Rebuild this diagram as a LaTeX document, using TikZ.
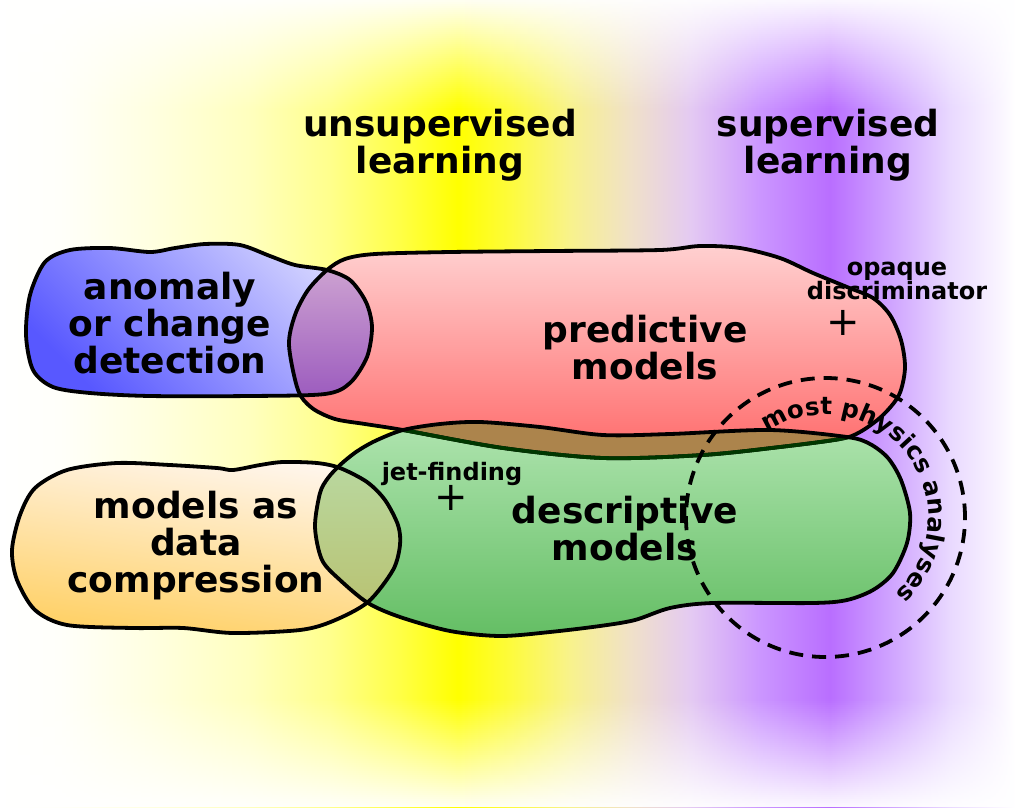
\documentclass[tikz,border=0pt]{standalone}
\usepackage{fontspec}
\setmainfont{DejaVu Sans}
\usetikzlibrary{decorations.text}
\definecolor{bgA}{RGB}{255,255,250}
\definecolor{bgB}{RGB}{255,255,225}
\definecolor{bgC}{RGB}{255,255,190}
\definecolor{bgD}{RGB}{255,255,140}
\definecolor{bgE}{RGB}{255,255,70}
\definecolor{bgF}{RGB}{255,255,0}
\definecolor{bgG}{RGB}{253,251,60}
\definecolor{bgH}{RGB}{248,242,140}
\definecolor{bgI}{RGB}{240,225,200}
\definecolor{bgJ}{RGB}{228,202,242}
\definecolor{bgK}{RGB}{203,150,255}
\definecolor{bgL}{RGB}{185,110,255}
\definecolor{bgM}{RGB}{207,163,255}
\definecolor{bgN}{RGB}{233,217,255}
\definecolor{bgO}{RGB}{250,245,255}
\definecolor{blueT}{RGB}{212,212,255}
\definecolor{blueB}{RGB}{88,88,255}
\definecolor{redT}{RGB}{255,208,208}
\definecolor{redB}{RGB}{255,105,105}
\definecolor{greenT}{RGB}{175,228,175}
\definecolor{greenB}{RGB}{100,190,100}
\definecolor{orangeT}{RGB}{255,246,238}
\definecolor{orangeB}{RGB}{255,208,100}
\definecolor{purpT}{RGB}{207,165,210}
\definecolor{purpB}{RGB}{155,90,190}
\definecolor{brownC}{RGB}{172,132,76}
\definecolor{oliveT}{RGB}{185,216,160}
\definecolor{oliveB}{RGB}{185,195,115}
\definecolor{darkgreenline}{RGB}{0,55,0}
\pgfdeclarehorizontalshading{bgshade}{100bp}{color(0bp)=(white); color(25bp)=(white); color(27.96bp)=(bgA); color(32.39bp)=(bgB); color(37.32bp)=(bgC); color(41.26bp)=(bgD); color(44.70bp)=(bgE); color(47.56bp)=(bgF); color(50.12bp)=(bgG); color(53.08bp)=(bgH); color(56.03bp)=(bgI); color(59.00bp)=(bgJ); color(62.44bp)=(bgK); color(65.89bp)=(bgL); color(68.84bp)=(bgM); color(71.80bp)=(bgN); color(74.26bp)=(bgO); color(75bp)=(white); color(100bp)=(white)}
\tikzset{
  blobline/.style={draw=black, line width=3.8pt, line join=round},
  bigtext/.style={font=\bfseries\fontsize{36}{37}\selectfont, align=center, inner sep=0pt},
  smalltext/.style={font=\bfseries\fontsize{24}{24}\selectfont, align=center, inner sep=0pt},
  plussign/.style={font=\fontsize{40}{40}\selectfont, inner sep=0pt},
  bluepath/.style={insert path={plot[smooth cycle] coordinates {(45,-262) (70,-250) (110,-248) (150,-252) (175,-248) (205,-244) (240,-245) (270,-256) (295,-265) (327,-270) (350,-280) (366,-302) (372,-327) (367,-357) (350,-383) (325,-394) (250,-396) (150,-396) (90,-393) (53,-387) (33,-370) (26,-335) (30,-295)}}},
  redpath/.style={insert path={plot[smooth cycle] coordinates {(289,-345) (295,-315) (308,-290) (327,-270) (345,-259) (375,-254) (450,-252) (550,-251) (660,-250) (700,-246) (740,-248) (780,-258) (813,-273) (847,-287) (873,-298) (890,-315) (901,-340) (905,-368) (899,-395) (882,-416) (860,-432) (840,-439) (780,-447) (703,-455) (603,-458) (503,-448) (403,-430) (365,-424) (335,-419) (312,-408) (298,-390)}}},
  greenpath/.style={insert path={plot[smooth cycle] coordinates {(320,-493) (328,-478) (340,-465) (356,-452) (375,-441) (403,-430) (440,-424) (480,-422) (540,-427) (603,-435) (670,-434) (770,-430) (847,-437) (870,-444) (888,-458) (901,-480) (910,-513) (907,-543) (893,-573) (873,-590) (847,-600) (813,-603) (713,-603) (670,-608) (635,-620) (600,-626) (550,-632) (500,-636) (450,-631) (400,-617) (368,-603) (340,-580) (322,-560) (315,-527)}}},
  orangepath/.style={insert path={plot[smooth cycle] coordinates {(20,-515) (35,-488) (67,-470) (117,-463) (170,-465) (217,-468) (233,-470) (260,-465) (283,-462) (317,-463) (340,-468) (367,-482) (385,-500) (398,-525) (400,-545) (393,-570) (368,-602) (333,-621) (300,-630) (233,-633) (183,-628) (133,-628) (67,-625) (35,-610) (17,-580) (12,-550)}}}
}
\begin{document}
\begin{tikzpicture}[x=1pt,y=1pt]
\useasboundingbox (0,0) rectangle (1015,-807);
% background
\fill[white] (0,0) rectangle (1015,-807);
\shade[shading=bgshade] (0,0) rectangle (1015,-807);
\foreach \i in {0,...,54} {
  \pgfmathsetmacro\op{0.95*(1-(\i+0.5)/55)}
  \fill[white, fill opacity=\op] (0,-2*\i+0.3) rectangle (1015,-2*\i-2.3);
}
\foreach \i in {0,...,53} {
  \pgfmathsetmacro\op{0.95*(1-(\i+0.5)/54)}
  \fill[white, fill opacity=\op] (0,-807+2*\i-0.3) rectangle (1015,-807+2*\i+2.3);
}
% blob fills
\shade[top color=redT, bottom color=redB, redpath];
\shade[top color=greenT, bottom color=greenB, greenpath];
\shade[top color=blueB, bottom color=blueT, shading angle=135, bluepath];
\shade[top color=orangeB, bottom color=orangeT, shading angle=172, orangepath];
% overlaps
\begin{scope}
  \clip[redpath];
  \clip[bluepath];
  \shade[top color=purpT, bottom color=purpB] (280,-262) rectangle (380,-400);
\end{scope}
\begin{scope}
  \clip[redpath];
  \fill[brownC, greenpath];
\end{scope}
\begin{scope}
  \clip[orangepath];
  \clip[greenpath];
  \shade[top color=oliveT, bottom color=oliveB] (300,-462) rectangle (410,-606);
\end{scope}
% outlines
\path[blobline, redpath];
\begin{scope}
  \clip[greenpath];
  \path[blobline, draw=darkgreenline, redpath];
\end{scope}
\path[blobline, greenpath];
\path[blobline, bluepath];
\path[blobline, orangepath];
% texts
\node[bigtext] (unsup) at (440,-145) {unsupervised\\learning};
\node[bigtext] (sup) at (828,-145) {supervised\\learning};
\node[bigtext] (anom) at (170,-323) {anomaly\\or change\\detection};
\node[bigtext] (pred) at (645,-348) {predictive\\models};
\node[bigtext] (desc) at (625,-529) {descriptive\\models};
\node[bigtext] (comp) at (196,-546) {models as\\data\\compression};
\node[smalltext] (opaq) at (897,-281) {opaque\\discriminator};
\node[plussign] (plusA) at (843,-323) {+};
\node[smalltext] (jet) at (452,-474) {jet-finding};
\node[plussign] (plusB) at (451,-498) {+};
% most physics analyses
\coordinate (cc) at (825.5,-517.5);
\draw[line width=3.8pt, dash pattern=on 14pt off 9pt] (cc) circle[radius=139.5];
\path[decorate, decoration={text along path, text align=center,
  text={|\bfseries\fontsize{24.5}{25}\selectfont|most physics analyses}}]
  ([shift={(128.5:103)}]cc) arc[start angle=128.5, end angle=-51.5, radius=103];
\end{tikzpicture}
\end{document}
